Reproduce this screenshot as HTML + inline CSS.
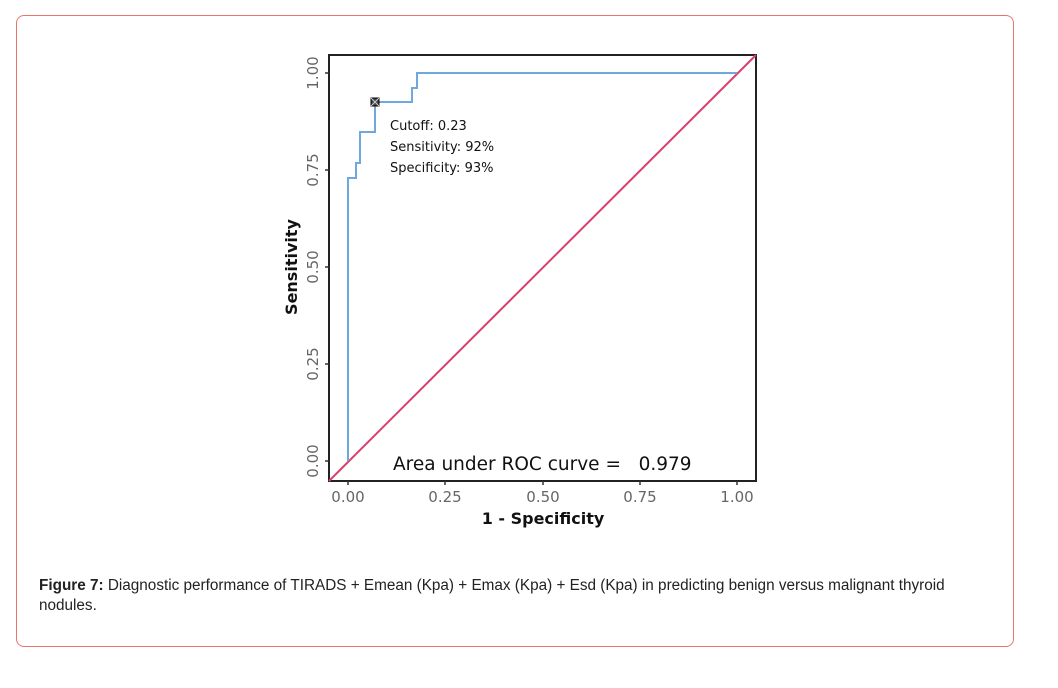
<!DOCTYPE html>
<html><head><style>
body{margin:0;width:1058px;height:688px;background:#fff;position:relative;font-family:"Liberation Sans",sans-serif;}
.box{position:absolute;left:16px;top:15px;width:996px;height:630px;border:1px solid #e8756a;border-radius:8px;}
.cap{position:absolute;left:39px;top:576px;width:940px;font-size:15.3px;line-height:20px;color:#222;}
</style></head><body>
<div class="box"></div>
<svg width="1058" height="688" style="position:absolute;left:0;top:0" font-family="DejaVu Sans, sans-serif">
<rect x="329" y="55" width="427" height="426" fill="none" stroke="#222" stroke-width="2"/>
<line x1="329" y1="481" x2="756" y2="55" stroke="#d9406a" stroke-width="2"/>
<polyline fill="none" stroke="#6fa8dc" stroke-width="2" points="348,461 348,178 356,178 356,163 360,163 360,132 375,132 375,102 412,102 412,88 417,88 417,73 737,73"/>
<rect x="371" y="98" width="8" height="8" fill="#444" stroke="#000"/>
<path d="M371 98L379 106M379 98L371 106" stroke="#ccc" stroke-width="1"/>
<g font-size="13" fill="#111">
<text x="390" y="130">Cutoff: 0.23</text>
<text x="390" y="151">Sensitivity: 92%</text>
<text x="390" y="172">Specificity: 93%</text>
</g>
<text x="393" y="470" font-size="18.5" fill="#111" xml:space="preserve">Area under ROC curve =   0.979</text>
<g stroke="#333" stroke-width="1.5">
<line x1="348" y1="481" x2="348" y2="485"/><line x1="445" y1="481" x2="445" y2="485"/><line x1="543" y1="481" x2="543" y2="485"/><line x1="640" y1="481" x2="640" y2="485"/><line x1="737" y1="481" x2="737" y2="485"/>
<line x1="325" y1="461" x2="329" y2="461"/><line x1="325" y1="364" x2="329" y2="364"/><line x1="325" y1="267" x2="329" y2="267"/><line x1="325" y1="170" x2="329" y2="170"/><line x1="325" y1="73" x2="329" y2="73"/>
</g>
<g font-size="15" fill="#666" text-anchor="middle">
<text x="348" y="502">0.00</text><text x="445" y="502">0.25</text><text x="543" y="502">0.50</text><text x="640" y="502">0.75</text><text x="737" y="502">1.00</text>
<text transform="translate(318,461) rotate(-90)">0.00</text>
<text transform="translate(318,364) rotate(-90)">0.25</text>
<text transform="translate(318,267) rotate(-90)">0.50</text>
<text transform="translate(318,170) rotate(-90)">0.75</text>
<text transform="translate(318,73) rotate(-90)">1.00</text>
</g>
<text x="543" y="524" font-size="16" font-weight="bold" text-anchor="middle" fill="#111">1 - Specificity</text>
<text transform="translate(297,267) rotate(-90)" font-size="16" font-weight="bold" text-anchor="middle" fill="#111">Sensitivity</text>
</svg>
<div class="cap"><b>Figure 7:</b> Diagnostic performance of TIRADS + Emean (Kpa) + Emax (Kpa) + Esd (Kpa) in predicting benign versus malignant thyroid nodules.</div>
</body></html>
